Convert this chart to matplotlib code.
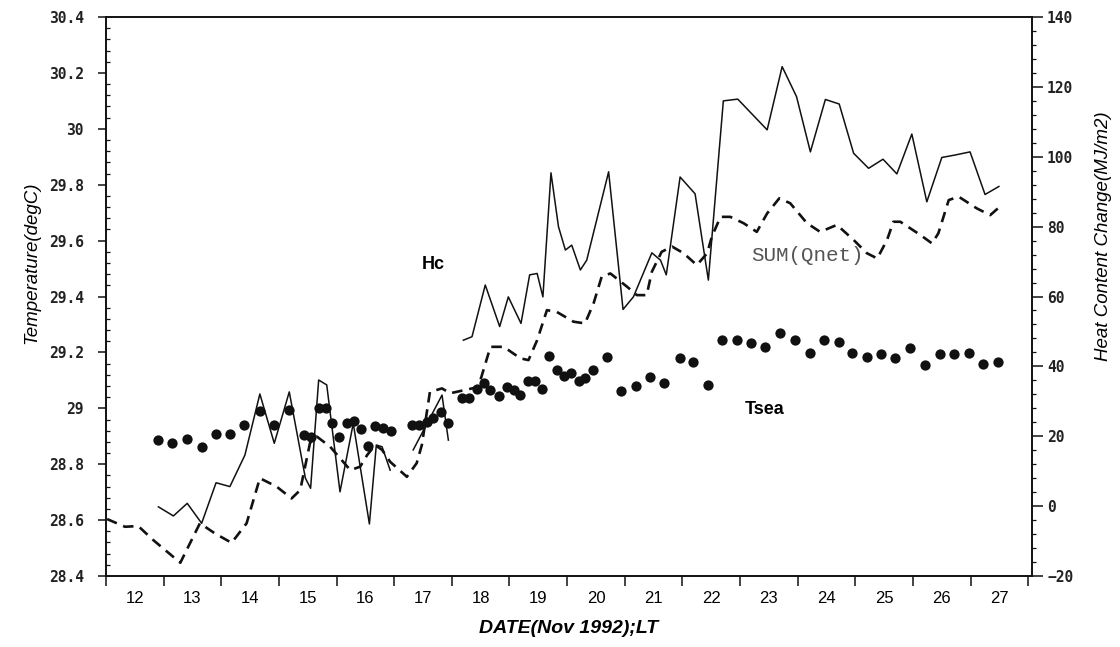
import numpy as np
import matplotlib.pyplot as plt
from matplotlib.ticker import MultipleLocator, NullFormatter, FuncFormatter

# heat content change Hc (MJ/m2), nan = gap in the record
hc_day = [12.91, 13.17, 13.41, 13.66, 13.91, 14.15, 14.41, 14.67, 14.92, 15.18,
          15.46, 15.55, 15.69, 15.83, 16.06, 16.29, 16.57, 16.69, 16.79, 16.93,
          17.10, 17.33, 17.83, 17.94, 18.05, 18.20, 18.35, 18.58, 18.83, 18.98,
          19.20, 19.35, 19.48, 19.58, 19.72, 19.85, 19.97, 20.08, 20.23, 20.34,
          20.72, 20.97, 21.15, 21.47, 21.62, 21.72, 21.96, 22.22, 22.45, 22.71,
          22.96, 23.47, 23.73, 23.98, 24.22, 24.48, 24.72, 24.97, 25.23, 25.48,
          25.72, 25.98, 26.24, 26.50, 26.73, 26.99, 27.25, 27.49]
hc_val = [-0.2, -2.8, 0.8, -4.9, 6.7, 5.6, 14.6, 32.1, 18.0, 32.7,
          8.0, 5.1, 36.1, 34.7, 4.1, 23.7, -5.1, 17.5, 17.0, 10.3,
          np.nan, 16.1, 31.8, 18.9, np.nan, 47.5, 48.5, 63.3, 51.4, 59.9,
          52.3, 66.2, 66.6, 59.9, 95.4, 80.0, 73.3, 74.7, 67.6, 70.4,
          95.7, 56.3, 59.9, 72.5, 70.4, 66.2, 94.2, 89.4, 64.7, 116.0,
          116.5, 107.7, 125.8, 117.2, 101.4, 116.4, 115.1, 101.0, 96.7, 99.3,
          95.1, 106.5, 87.1, 99.8, 100.5, 101.4, 89.2, 91.5]

# accumulated net surface heat flux SUM(Qnet) (MJ/m2)
q_day = [12.02, 12.33, 12.56, 12.82, 13.29, 13.63, 13.89, 14.18, 14.44, 14.67,
         14.96, 15.22, 15.37, 15.54, 15.66, 15.89, 16.24, 16.41, 16.53, 16.67,
         16.79, 16.93, 17.22, 17.39, 17.48, 17.62, 17.83, 17.97, 18.46, 18.67,
         18.90, 19.19, 19.33, 19.48, 19.65, 19.82, 20.11, 20.31, 20.46, 20.60,
         20.75, 21.04, 21.21, 21.38, 21.47, 21.64, 21.82, 22.02, 22.25, 22.43,
         22.51, 22.66, 22.83, 23.06, 23.29, 23.47, 23.68, 23.87, 24.16, 24.39,
         24.68, 24.97, 25.20, 25.38, 25.55, 25.66, 25.78, 26.13, 26.33, 26.44,
         26.62, 26.79, 27.11, 27.34, 27.54]
q_val = [-3.7, -5.9, -5.7, -9.7, -16.2, -4.9, -7.8, -10.5, -4.9, 8.0,
         5.6, 2.2, 4.6, 18.1, 19.9, 17.0, 10.3, 11.3, 14.6, 17.5,
         16.1, 12.7, 8.4, 12.3, 17.5, 32.7, 33.7, 32.3, 34.1, 45.6,
         45.6, 42.3, 41.8, 47.5, 56.1, 55.6, 52.8, 52.3, 58.1, 65.7,
         66.6, 62.8, 60.4, 60.4, 67.1, 72.8, 74.3, 72.4, 69.0, 72.4,
         77.1, 82.8, 82.8, 81.0, 78.5, 83.8, 88.1, 86.7, 81.0, 78.5,
         80.5, 76.2, 72.4, 70.9, 76.2, 81.4, 81.4, 77.6, 75.2, 78.1,
         87.6, 88.6, 85.2, 83.3, 86.2]

# sea surface temperature (degC)
t_day = [12.90, 13.14, 13.40, 13.66, 13.91, 14.16, 14.40, 14.67, 14.92, 15.17,
         15.43, 15.56, 15.69, 15.81, 15.92, 16.05, 16.18, 16.30, 16.43, 16.55,
         16.67, 16.81, 16.94, 17.31, 17.43, 17.57, 17.68, 17.82, 17.94, 18.17,
         18.30, 18.43, 18.55, 18.67, 18.81, 18.96, 19.07, 19.19, 19.33, 19.45,
         19.56, 19.68, 19.83, 19.95, 20.07, 20.20, 20.31, 20.45, 20.69, 20.94,
         21.19, 21.43, 21.68, 21.95, 22.19, 22.44, 22.69, 22.94, 23.19, 23.44,
         23.69, 23.95, 24.21, 24.45, 24.71, 24.94, 25.20, 25.45, 25.69, 25.95,
         26.20, 26.46, 26.72, 26.97, 27.21, 27.47]
t_val = [28.885, 28.875, 28.892, 28.863, 28.909, 28.907, 28.940, 28.991, 28.940, 28.995,
         28.904, 28.898, 29.000, 29.000, 28.947, 28.898, 28.947, 28.954, 28.927, 28.865,
         28.937, 28.931, 28.918, 28.941, 28.940, 28.952, 28.967, 28.987, 28.946, 29.036,
         29.036, 29.070, 29.089, 29.067, 29.043, 29.075, 29.064, 29.049, 29.097, 29.097,
         29.068, 29.187, 29.138, 29.114, 29.127, 29.099, 29.107, 29.137, 29.185, 29.061,
         29.080, 29.113, 29.091, 29.179, 29.166, 29.084, 29.245, 29.245, 29.235, 29.221,
         29.270, 29.244, 29.199, 29.244, 29.238, 29.199, 29.182, 29.193, 29.179, 29.215,
         29.155, 29.193, 29.194, 29.197, 29.158, 29.165]

days = list(range(12, 28))
day_labels = [str(d) for d in days]

sans = ['Liberation Sans', 'DejaVu Sans']
mono = ['DejaVu Sans Mono']
ink = '#111111'

fig = plt.figure(figsize=(11.2, 6.47), dpi=100)
ax = fig.add_axes([0.0946, 0.1097, 0.8266, 0.864])
ax2 = ax.twinx()

ax.plot(t_day, t_val, 'o', color=ink, ms=7.4, mec='none', zorder=3)
ax2.plot(hc_day, hc_val, '-', color=ink, lw=1.1)
ax2.plot(q_day, q_val, color=ink, lw=1.9, linestyle=(0, (4, 2.6)))

ax.set_xlim(12, 28.06)
ax.set_ylim(28.4, 30.4)
ax2.set_ylim(-20, 140)

# x axis: ticks at midnight, day numbers near noon
ax.set_xticks([d for d in days] + [28])
ax.xaxis.set_major_formatter(NullFormatter())
ax.set_xticks([d + 0.5 for d in days], labels=day_labels, minor=True)
ax.tick_params(axis='x', which='major', direction='out', length=7, width=1.1, color=ink)
ax.tick_params(axis='x', which='minor', length=0, pad=11)
for lab in ax.get_xticklabels(minor=True):
    lab.set_family(sans)
    lab.set_fontsize(12)

# left axis: temperature
ax.yaxis.set_major_locator(MultipleLocator(0.2))
ax.yaxis.set_minor_locator(MultipleLocator(0.04))
ax.yaxis.set_major_formatter(FuncFormatter(lambda v, p: f'{v:g}'))
ax.tick_params(axis='y', which='major', direction='out', length=6, width=1.1, pad=10, color=ink)
ax.tick_params(axis='y', which='minor', direction='in', length=3, width=0.9, color=ink)
for lab in ax.get_yticklabels():
    lab.set_family(mono)
    lab.set_fontweight('bold')
    lab.set_fontsize(10.5)
    lab.set_color('#222222')

# right axis: heat content
ax2.yaxis.set_major_locator(MultipleLocator(20))
ax2.yaxis.set_minor_locator(MultipleLocator(4))
ax2.tick_params(axis='y', which='major', direction='out', length=8, width=1.1, pad=3, color=ink)
ax2.tick_params(axis='y', which='minor', direction='out', length=3, width=0.9, color=ink)
for lab in ax2.get_yticklabels():
    lab.set_family(mono)
    lab.set_fontweight('bold')
    lab.set_fontsize(10.5)
    lab.set_color('#222222')

for a in (ax, ax2):
    for s in a.spines.values():
        s.set_linewidth(1.2)
        s.set_color(ink)

# axis titles
ax.text(0.5, -0.094, 'DATE(Nov 1992);LT', transform=ax.transAxes, ha='center', va='center',
        family=sans, style='italic', fontweight='bold', fontsize=14)
ax.text(-0.0798, 0.56, 'Temperature(degC)', transform=ax.transAxes, ha='center', va='center',
        rotation=90, family=sans, style='italic', fontsize=13.5)
ax2.text(1.077, 0.608, 'Heat Content Change(MJ/m2)', transform=ax2.transAxes, ha='center',
         va='center', rotation=90, family=sans, style='italic', fontsize=13.5)

# series names inside the plot
ax.text(17.68, 29.516, 'Hc', ha='center', va='center', fontsize=13, fontweight='bold',
        family=sans)
ax.text(23.42, 28.994, 'Tsea', ha='center', va='center', fontsize=13, fontweight='bold',
        family=sans)
ax.text(24.17, 29.545, 'SUM(Qnet)', ha='center', va='center', fontsize=15,
        family=['Liberation Mono'], color='#555555')

fig.savefig('out.png', dpi=100)
